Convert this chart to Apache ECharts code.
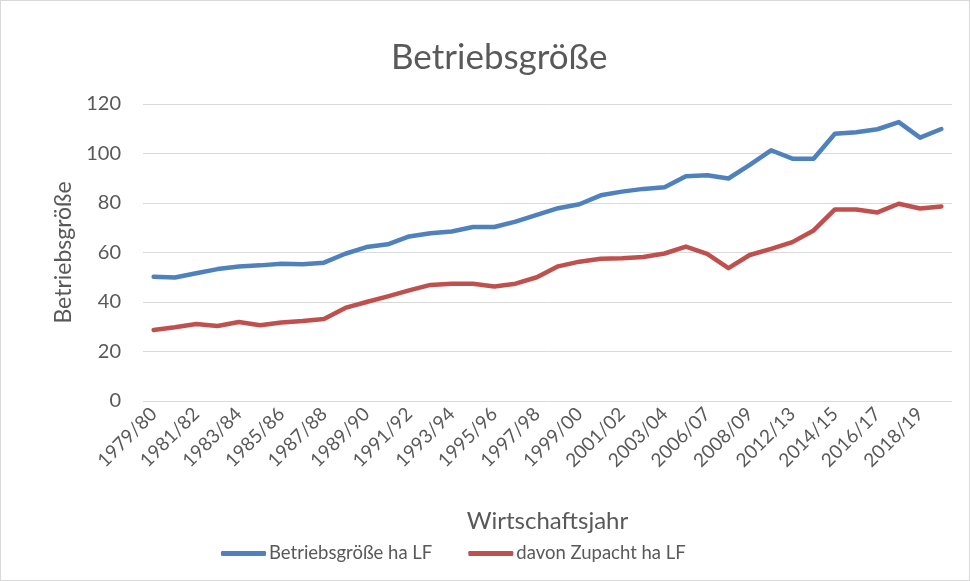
<!DOCTYPE html>
<html>
<head>
<meta charset="utf-8">
<script src="https://cdn.jsdelivr.net/npm/echarts@6/dist/echarts.min.js"></script>
<style>
  html, body { margin: 0; padding: 0; background: #fff; }
  #main { width: 968px; height: 579px; border: 1px solid #d9d9d9; }
</style>
</head>
<body>
<div id="main"></div>
<script>
// Wirtschaftsjahre
var years = [
  '1979/80', '1980/81', '1981/82', '1982/83', '1983/84', '1984/85', '1985/86', '1986/87',
  '1987/88', '1988/89', '1989/90', '1990/91', '1991/92', '1992/93', '1993/94', '1994/95',
  '1995/96', '1996/97', '1997/98', '1998/99', '1999/00', '2000/01', '2001/02', '2002/03',
  '2003/04', '2004/05', '2006/07', '2007/08', '2008/09', '2010/11', '2012/13', '2013/14',
  '2014/15', '2015/16', '2016/17', '2017/18', '2018/19', '2019/20'
];

// Betriebsgröße ha LF
var betriebsgroesse = [
  50.2, 49.9, 51.6, 53.3, 54.3, 54.8, 55.5, 55.3, 55.9, 59.5,
  62.2, 63.3, 66.5, 67.8, 68.5, 70.3, 70.3, 72.5, 75.2, 77.9,
  79.5, 83.1, 84.6, 85.7, 86.4, 90.8, 91.2, 89.9, 95.4, 101.3,
  97.9, 97.9, 108.0, 108.6, 109.8, 112.7, 106.4, 109.9
];

// davon Zupacht ha LF
var zupacht = [
  28.7, 29.8, 31.1, 30.3, 31.9, 30.6, 31.7, 32.3, 33.1, 37.6,
  40.0, 42.3, 44.7, 46.9, 47.4, 47.4, 46.3, 47.4, 50.0, 54.4,
  56.3, 57.5, 57.7, 58.2, 59.6, 62.4, 59.4, 53.7, 59.0, 61.5,
  64.2, 68.9, 77.4, 77.4, 76.2, 79.7, 77.8, 78.6
];

var textColor = '#595959';
var font = 'Lato, "Liberation Sans", sans-serif';

var myChart = echarts.init(document.getElementById('main'));

var option = {
  backgroundColor: '#fff',
  textStyle: { fontFamily: font },
  title: {
    text: 'Betriebsgröße',
    left: 385,
    top: 34,
    textStyle: { color: textColor, fontSize: 35, fontWeight: 'normal', fontFamily: font }
  },
  legend: {
    left: 215,
    top: 538,
    icon: 'roundRect',
    itemWidth: 45,
    itemHeight: 5,
    itemGap: 36,
    textStyle: { color: textColor, fontSize: 18.5, fontFamily: font, padding: [0, 0, 0, -2] },
    data: ['Betriebsgröße ha LF', 'davon Zupacht ha LF']
  },
  grid: { left: 142, right: 17, top: 103, bottom: 179 },
  xAxis: {
    type: 'category',
    data: years,
    boundaryGap: true,
    name: 'Wirtschaftsjahr',
    nameLocation: 'middle',
    nameGap: 108,
    nameTextStyle: { color: textColor, fontSize: 24, fontFamily: font },
    axisLine: { show: false },
    axisTick: { show: false },
    axisLabel: {
      interval: 1,
      rotate: 45,
      color: textColor,
      fontSize: 19,
      fontFamily: font,
      margin: 10
    }
  },
  yAxis: {
    type: 'value',
    min: 0,
    max: 120,
    interval: 20,
    name: 'Betriebsgröße',
    nameLocation: 'middle',
    nameGap: 66,
    nameTextStyle: { color: textColor, fontSize: 23, fontFamily: font },
    axisLine: { show: false },
    axisTick: { show: false },
    axisLabel: { color: textColor, fontSize: 20, fontFamily: font, margin: 22 },
    splitLine: { lineStyle: { color: '#d9d9d9', width: 1 } }
  },
  series: [
    {
      name: 'Betriebsgröße ha LF',
      type: 'line',
      data: betriebsgroesse,
      symbol: 'none',
      color: '#4f81bd',
      lineStyle: { width: 4.5, color: '#4f81bd', cap: 'round', join: 'round' }
    },
    {
      name: 'davon Zupacht ha LF',
      type: 'line',
      data: zupacht,
      symbol: 'none',
      color: '#c0504d',
      lineStyle: { width: 4.5, color: '#c0504d', cap: 'round', join: 'round' }
    }
  ]
};

myChart.setOption(option);
</script>
</body>
</html>
